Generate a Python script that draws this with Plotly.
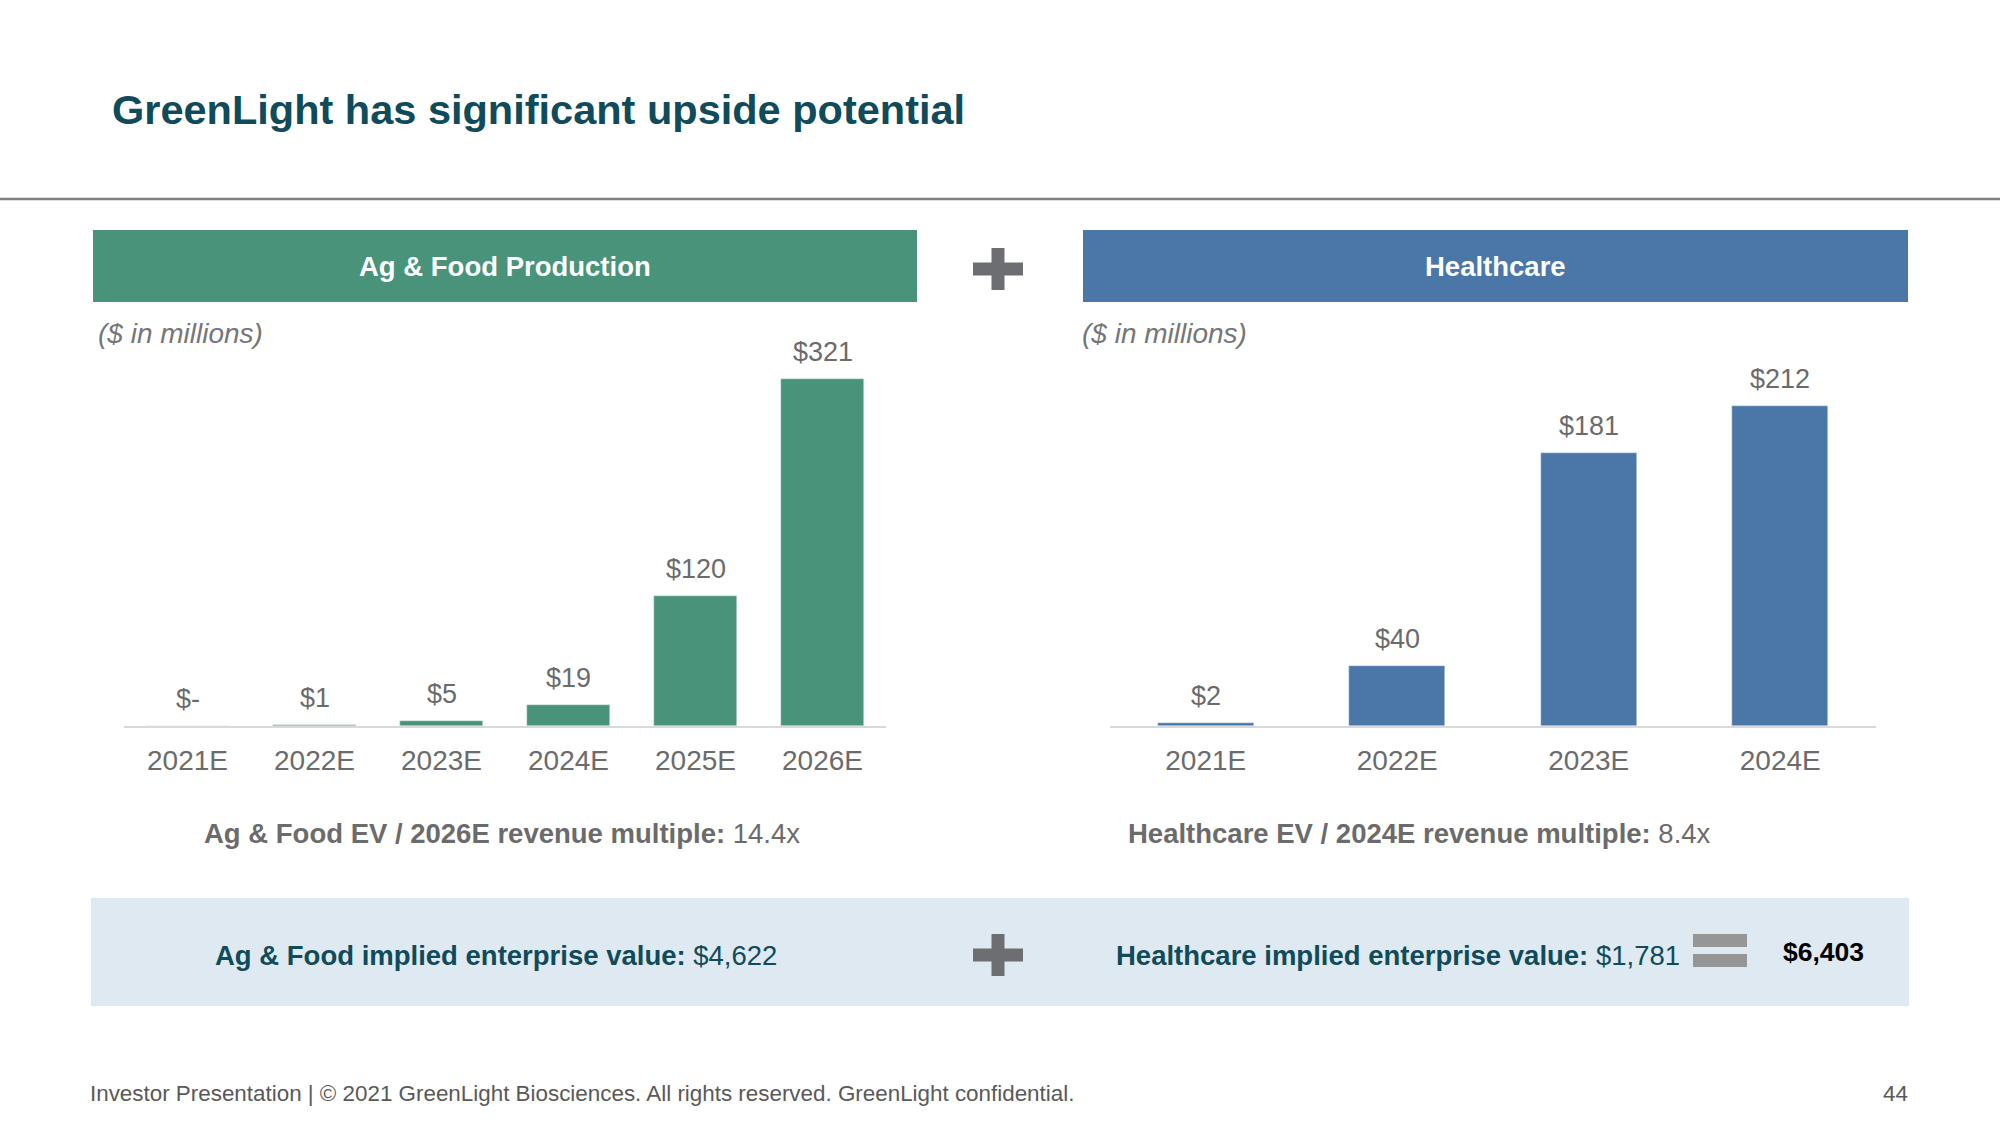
import plotly.graph_objects as go

# ---- data ----
ag_years = ["2021E", "2022E", "2023E", "2024E", "2025E", "2026E"]
ag_revenue = [0, 1, 5, 19, 120, 321]
hc_years = ["2021E", "2022E", "2023E", "2024E"]
hc_revenue = [2, 40, 181, 212]
ag_multiple = "14.4x"
hc_multiple = "8.4x"
ag_ev = "$4,622"
hc_ev = "$1,781"
total_ev = "$6,403"

W, H = 2000, 1125
FONT = "Liberation Sans, Arial, sans-serif"
GREEN = "#48937a"
BLUE = "#4a76a8"
TEAL = "#0f4b5a"
GRAY_TXT = "#6b6b6b"


def px(x):
    return x / W


def py(y):
    return 1 - y / H


def label(v):
    return "$-" if v == 0 else f"${v:,}"


fig = go.Figure()
fig.add_trace(go.Bar(x=ag_years, y=ag_revenue, marker_color=GREEN, width=0.66,
                     xaxis="x", yaxis="y", hoverinfo="x+y"))
fig.add_trace(go.Bar(x=hc_years, y=hc_revenue, marker_color=BLUE, width=0.5,
                     xaxis="x2", yaxis="y2", hoverinfo="x+y"))

base_y = 726
top_y = 300
ydom = [py(base_y), py(top_y)]
plot_h = base_y - top_y

axis_common = dict(showgrid=False, zeroline=False, showline=True, linecolor="#d9d9d9",
                   linewidth=2, ticks="", ticklabelstandoff=8,
                   tickfont=dict(family=FONT, size=28, color=GRAY_TXT),
                   type="category", fixedrange=True)

fig.update_layout(
    width=W, height=H,
    margin=dict(l=0, r=0, t=0, b=0),
    paper_bgcolor="white", plot_bgcolor="rgba(0,0,0,0)",
    showlegend=False,
    bargap=0,
    xaxis=dict(domain=[px(124), px(886)], range=[-0.5, 5.5], anchor="y", **axis_common),
    yaxis=dict(domain=ydom, range=[0, plot_h / 1.08], visible=False, fixedrange=True),
    xaxis2=dict(domain=[px(1110), px(1876)], range=[-0.5, 3.5], anchor="y2", **axis_common),
    yaxis2=dict(domain=ydom, range=[0, plot_h / 1.51], visible=False, fixedrange=True),
)

ann = []
# data labels
for c, v in zip(ag_years, ag_revenue):
    ann.append(dict(x=c, y=v, xref="x", yref="y", text=label(v), showarrow=False,
                    xanchor="center", yanchor="bottom", yshift=10,
                    font=dict(family=FONT, size=27, color=GRAY_TXT)))
for c, v in zip(hc_years, hc_revenue):
    ann.append(dict(x=c, y=v, xref="x2", yref="y2", text=label(v), showarrow=False,
                    xanchor="center", yanchor="bottom", yshift=10,
                    font=dict(family=FONT, size=27, color=GRAY_TXT)))


def txt(x, y, text, size, color, xanchor="center"):
    ann.append(dict(x=px(x), y=py(y), xref="paper", yref="paper", xanchor=xanchor, yanchor="middle",
                    text=text, showarrow=False, font=dict(family=FONT, size=size, color=color)))


# title
txt(110, 110, "<b>GreenLight has significant upside potential</b>", 41.5, TEAL, "left")
# header boxes text
txt(505, 266, "<b>Ag &amp; Food Production</b>", 27.5, "white")
txt(1495, 266, "<b>Healthcare</b>", 27.5, "white")
# units
txt(96, 333, "<i>($ in millions)</i>", 28, "#767676", "left")
txt(1080, 333, "<i>($ in millions)</i>", 28, "#767676", "left")
# multiples captions
txt(502, 833, f"<b>Ag &amp; Food EV / 2026E revenue multiple:</b> {ag_multiple}", 27.5, GRAY_TXT)
txt(1419, 833, f"<b>Healthcare EV / 2024E revenue multiple:</b> {hc_multiple}", 27.5, GRAY_TXT)
# band texts
txt(496, 955, f"<b>Ag &amp; Food implied enterprise value:</b> {ag_ev}", 27.5, TEAL)
txt(1398, 955, f"<b>Healthcare implied enterprise value:</b> {hc_ev}", 27.5, TEAL)
txt(1823, 952, f"<b>{total_ev}</b>", 26.5, "black")
# footer
txt(88, 1093, "Investor Presentation | © 2021 GreenLight Biosciences. All rights reserved. GreenLight confidential.",
    22.4, "#595959", "left")
txt(1910, 1093, "44", 22.4, "#595959", "right")

shapes = []


def rect(x0, y0, x1, y1, color):
    shapes.append(dict(type="rect", xref="paper", yref="paper", x0=px(x0), x1=px(x1),
                       y0=py(y1), y1=py(y0), fillcolor=color, line=dict(width=0), layer="below"))


# top rule
shapes.append(dict(type="line", xref="paper", yref="paper", x0=0, x1=1, y0=py(199), y1=py(199),
                   line=dict(color="#7f7f7f", width=2.5)))
# header boxes
rect(93, 230, 917, 302, GREEN)
rect(1083, 230, 1908, 302, BLUE)
# band
rect(91, 898, 1909, 1006, "#dfe9f1")


def plus(cx, cy, half_w, half_h, t, color="#6d6e71"):
    shapes.append(dict(type="rect", xref="paper", yref="paper", x0=px(cx - half_w), x1=px(cx + half_w),
                       y0=py(cy + t / 2), y1=py(cy - t / 2), fillcolor=color, line=dict(width=0)))
    shapes.append(dict(type="rect", xref="paper", yref="paper", x0=px(cx - t / 2), x1=px(cx + t / 2),
                       y0=py(cy + half_h), y1=py(cy - half_h), fillcolor=color, line=dict(width=0)))


plus(998, 269, 25, 21, 13)
plus(998, 955, 25, 21, 13)
# equals
for y0, y1 in ((934, 947), (954, 967)):
    shapes.append(dict(type="rect", xref="paper", yref="paper", x0=px(1693), x1=px(1747),
                       y0=py(y1), y1=py(y0), fillcolor="#969696", line=dict(width=0)))

fig.update_layout(annotations=ann, shapes=shapes)
fig.write_html("out.html", config={"displayModeBar": False},
               post_script="document.body.style.margin='0';document.body.style.overflow='hidden';")
